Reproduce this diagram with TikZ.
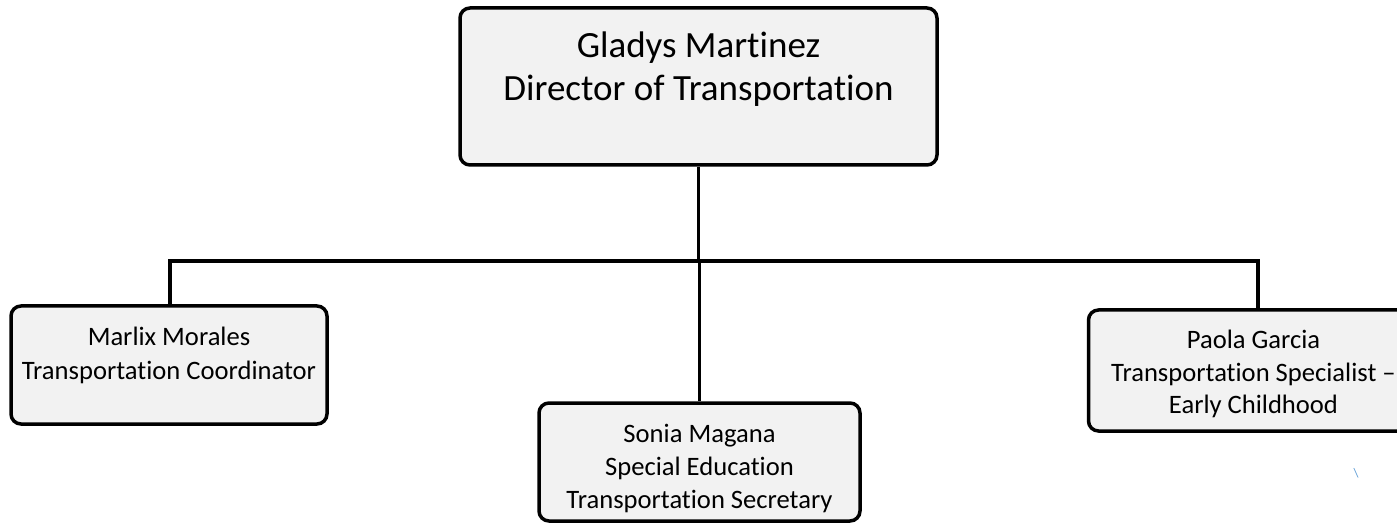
\documentclass[tikz,border=0pt]{standalone}
\usepackage{fontspec}
\setmainfont{Carlito}[Ligatures={NoCommon,NoRare,NoDiscretionary}]
\usetikzlibrary{positioning,calc}
\definecolor{boxgray}{HTML}{F2F2F2}
\definecolor{markblue}{HTML}{5B9BD5}

\begin{document}
\begin{tikzpicture}[x=1pt, y=-1pt]
    \tikzset{BoxStyle/.style = {draw, line width=3.5pt, fill=boxgray,
        rounded corners=10pt, inner sep=0pt},
      TextStyle/.style = {align=center, inner sep=0pt},
      LinkStyle/.style = {line width=3.5pt}}
    \clip (0,0) rectangle (1397,526);
    \fill[white] (0,0) rectangle (1397,526);
    \node[BoxStyle, minimum width=477pt, minimum height=157pt] (director) at (698.5,86.5) {};
    \node[BoxStyle, minimum width=316pt, minimum height=118pt] (marlix) at (169,365) {};
    \node[BoxStyle, minimum width=321pt, minimum height=118pt] (sonia) at (699.5,462) {};
    \node[BoxStyle, minimum width=333pt, minimum height=121pt] (paola) at (1255,370.5) {};
    \node[TextStyle, font=\fontsize{37}{43}\selectfont] (directortext) at (698.5,69)
      {Gladys Martinez\\Director of Transportation};
    \node[TextStyle, font=\fontsize{26.6}{34}\selectfont] (marlixtext) at (169,355)
      {Marlix Morales\\Transportation Coordinator};
    \node[TextStyle, font=\fontsize{26.6}{33}\selectfont] (soniatext) at (699.5,468)
      {Sonia Magana\\Special Education\\Transportation Secretary};
    \node[TextStyle, font=\fontsize{26.6}{32.5}\selectfont] (paolatext) at (1253.5,374)
      {Paola Garcia\\Transportation Specialist --\\Early Childhood};
    \coordinate (hub) at (698.5,261);
    \draw[LinkStyle] (director.south) -- (hub);
    \draw[LinkStyle, line width=4pt] (marlix.north -| 170,0) |- (hub) -| (paola.north -| 1258,0);
    \draw[LinkStyle] (hub -| sonia.north) -- (sonia.north);
    \node[text=markblue, font=\fontsize{13}{13}\selectfont, inner sep=0pt] (mark) at (1356,473) {\textbackslash};
  \end{tikzpicture}
\end{document}
